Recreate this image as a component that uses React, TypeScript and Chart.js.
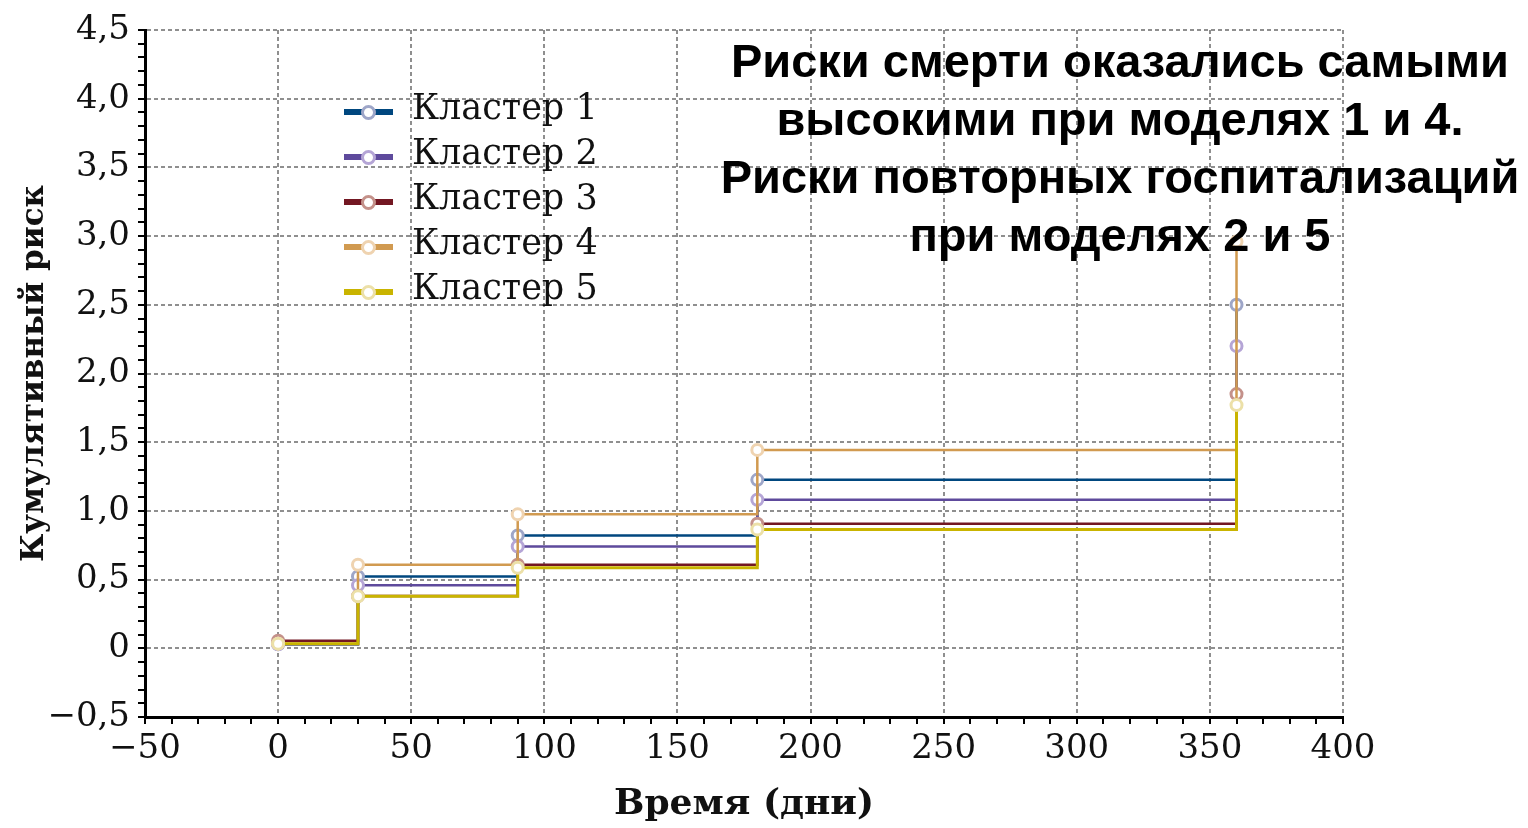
import React, { useEffect, useRef } from "react";
import { Chart, registerables } from "chart.js";

Chart.register(...registerables);

const days = [0, 30, 90, 180, 360];
const seriesNames = ["Кластер 1", "Кластер 2", "Кластер 3", "Кластер 4", "Кластер 5"];
const cluster1 = [0.03, 0.523, 0.821, 1.226, 2.5];
const cluster2 = [0.03, 0.458, 0.741, 1.081, 2.2];
const cluster3 = [0.055, 0.38, 0.608, 0.906, 1.85];
const cluster4 = [0.034, 0.608, 0.975, 1.444, 2.96];
const cluster5 = [0.034, 0.378, 0.586, 0.865, 1.77];
const lineColors = ["#00477f", "#5e4a9c", "#731722", "#d19a50", "#c9b400"];
const markerColors = ["#9ea6c8", "#b5a5d6", "#c4918a", "#efd3b0", "#ece0a8"];
const xTickLabels = ["−50", "0", "50", "100", "150", "200", "250", "300", "350", "400"];
const yTickLabels = ["−0,5", "0", "0,5", "1,0", "1,5", "2,0", "2,5", "3,0", "3,5", "4,0", "4,5"];
const noteLines = [
  "Риски смерти оказались самыми",
  "высокими при моделях 1 и 4.",
  "Риски повторных госпитализаций",
  "при моделях 2 и 5",
];
const xTitle = "Время (дни)";
const yTitle = "Кумулятивный риск";

const allSeries = [cluster1, cluster2, cluster3, cluster4, cluster5];

export default function App() {
  const ref = useRef<HTMLCanvasElement | null>(null);

  useEffect(() => {
    if (!ref.current) return;
    const datasets = allSeries.map((vals, i) => ({
      label: seriesNames[i],
      data: vals.map((v, j) => ({ x: days[j], y: v })),
      borderColor: lineColors[i],
      backgroundColor: "#ffffff",
      borderWidth: i === 4 ? 3 : 2.5,
      stepped: "before" as const,
      pointRadius: 5.5,
      pointBorderWidth: 3,
      pointBorderColor: markerColors[i],
      pointBackgroundColor: "#ffffff",
      fill: false,
      order: 5 - i,
    }));

    const isMajorX = (v: number) => Math.abs(v % 50) < 1e-6;
    const isMajorY = (v: number) => Math.abs(Math.round(v * 2) - v * 2) < 1e-6;

    const chart = new Chart(ref.current, {
      type: "line",
      data: { datasets },
      options: {
        animation: false,
        responsive: false,
        layout: { padding: { top: 30, right: 185, left: 0, bottom: 0 } },
        plugins: { legend: { display: false }, tooltip: { enabled: false } },
        scales: {
          x: {
            type: "linear",
            min: -50,
            max: 400,
            afterFit: (s: any) => {
              s.height = 111;
            },
            ticks: {
              stepSize: 10,
              autoSkip: false,
              maxRotation: 0,
              padding: 5,
              color: "#111",
              font: { family: "DejaVu Serif", size: 34 },
              callback: (v: any) => {
                const n = Number(v);
                if (!isMajorX(n)) return "";
                const idx = Math.round((n + 50) / 50);
                return xTickLabels[idx] ?? "";
              },
            },
            grid: {
              color: (c: any) => (isMajorX(c.tick.value) ? "#8f8f8f" : "rgba(0,0,0,0)"),
              lineWidth: 2,
              tickColor: "#000",
              tickLength: 7,
              tickWidth: 2,
            },
            border: { color: "#000", width: 3, dash: [4, 3] },
            title: {
              display: true,
              text: xTitle,
              color: "#111",
              font: { family: "DejaVu Serif", size: 36, weight: "bold" },
              padding: { top: 0, bottom: 2 },
            },
          },
          y: {
            type: "linear",
            min: -0.5,
            max: 4.5,
            afterFit: (s: any) => {
              s.width = 145;
            },
            ticks: {
              stepSize: 0.1,
              autoSkip: false,
              padding: 8,
              color: "#111",
              font: { family: "DejaVu Serif", size: 34 },
              callback: (v: any) => {
                const n = Number(v);
                if (!isMajorY(n)) return "";
                const idx = Math.round((n + 0.5) * 2);
                return yTickLabels[idx] ?? "";
              },
            },
            grid: {
              color: (c: any) => (isMajorY(c.tick.value) ? "#8f8f8f" : "rgba(0,0,0,0)"),
              lineWidth: 2,
              tickColor: "#000",
              tickLength: 7,
              tickWidth: 2,
            },
            border: { color: "#000", width: 3, dash: [4, 3] },
            title: {
              display: true,
              text: yTitle,
              color: "#111",
              font: { family: "DejaVu Serif", size: 31, weight: "bold" },
              padding: { top: 16, bottom: 0 },
            },
          },
        },
      },
    });
    return () => chart.destroy();
  }, []);

  return (
    <div
      style={{
        position: "fixed",
        left: 0,
        top: 0,
        width: 1528,
        height: 828,
        overflow: "hidden",
        background: "#fff",
      }}
    >
      <canvas ref={ref} width={1528} height={828} style={{ position: "absolute", left: 0, top: 0 }} />
      {seriesNames.map((name, i) => {
        const cy = 112 + i * 45;
        return (
          <React.Fragment key={name}>
            <div
              style={{
                position: "absolute",
                left: 344,
                top: cy - 3,
                width: 49,
                height: 6,
                background: lineColors[i],
              }}
            />
            <div
              style={{
                position: "absolute",
                left: 361,
                top: cy - 7,
                width: 15,
                height: 15,
                boxSizing: "border-box",
                border: `3px solid ${markerColors[i]}`,
                borderRadius: "50%",
                background: "#fff",
              }}
            />
            <div
              style={{
                position: "absolute",
                left: 412,
                top: cy - 25,
                height: 45,
                lineHeight: "45px",
                font: "35px 'DejaVu Serif'",
                color: "#111",
                whiteSpace: "nowrap",
              }}
            >
              {name}
            </div>
          </React.Fragment>
        );
      })}
      <div
        style={{
          position: "absolute",
          left: 670,
          top: 32,
          width: 900,
          textAlign: "center",
          font: "bold 47px 'Liberation Sans'",
          lineHeight: "58px",
          color: "#000",
        }}
      >
        {noteLines.map((l) => (
          <div key={l}>{l}</div>
        ))}
      </div>
    </div>
  );
}
